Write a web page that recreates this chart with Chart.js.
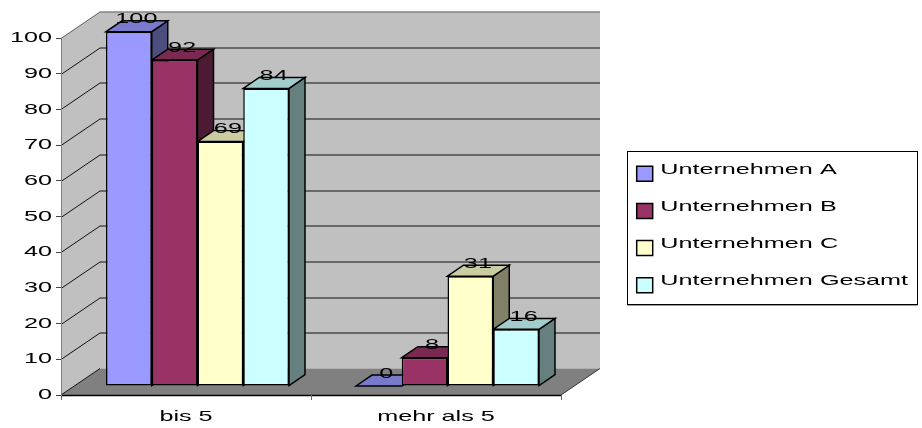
<!DOCTYPE html>
<html>
<head>
<meta charset="utf-8">
<style>html,body{margin:0;padding:0;background:#fff}canvas{display:block}</style>
<script src="https://cdn.jsdelivr.net/npm/chart.js@4"></script>
</head>
<body>
<canvas id="c" width="922" height="428"></canvas>
<script>
const categories = ['bis 5', 'mehr als 5'];
const seriesNames = ['Unternehmen A', 'Unternehmen B', 'Unternehmen C', 'Unternehmen Gesamt'];
const unternehmenA = [100, 0];
const unternehmenB = [92, 8];
const unternehmenC = [69, 31];
const unternehmenGesamt = [84, 16];
const frontColors = ['#9999FF', '#993366', '#FFFFCC', '#CCFFFF'];
const topColors = ['#7A7ACC', '#7A2952', '#CCCCA3', '#A3CCCC'];
const sideColors = ['#4D4D80', '#4D1A33', '#808066', '#668080'];

const FONT = 'Liberation Sans';
const FONT_SIZE = 15;
const STRETCH = 1.68;
const WALL = {dx: 39, dy: -26.5};
const BARPLANE = {dx: 11.5, bottom: 386, sy: 0.9924};
const BARDEPTH = {dx: 16, dy: -11};
const LEGENDBOX = {x: 627.5, y: 151.5, w: 290, h: 153};

const canvas = document.getElementById('c');
const ctx = canvas.getContext('2d');

// The reference's lettering is horizontally stretched; reproduce that on real text.
const rawFill = ctx.fillText.bind(ctx);
const rawMeasure = ctx.measureText.bind(ctx);
ctx.fillText = function (t, x, y) {
  const dy = (ctx.textBaseline === 'middle' && seriesNames.includes(t)) ? -4 : 0;
  ctx.save();
  ctx.translate(x, y + dy);
  ctx.scale(STRETCH, 1);
  rawFill(t, 0, 0);
  ctx.restore();
};
ctx.measureText = function (t) {
  const m = rawMeasure(t);
  return {width: m.width * STRETCH, actualBoxAscent: m.actualBoxAscent};
};

function poly(c, pts, fill, stroke, lw) {
  c.beginPath();
  pts.forEach((p, i) => i ? c.lineTo(p[0], p[1]) : c.moveTo(p[0], p[1]));
  c.closePath();
  if (fill) { c.fillStyle = fill; c.fill(); }
  if (stroke) { c.strokeStyle = stroke; c.lineWidth = lw || 1; c.stroke(); }
}
function seg(c, x1, y1, x2, y2, color, lw) {
  c.beginPath(); c.moveTo(x1, y1); c.lineTo(x2, y2);
  c.strokeStyle = color; c.lineWidth = lw || 1; c.stroke();
}

const scene3d = {
  id: 'scene3d',
  afterLayout(chart) {
    const l = chart.legend;
    l.left = 614.5; l.right = 922; l.top = 144; l.bottom = 428;
  },
  beforeDraw(chart) {
    const c = chart.ctx, a = chart.chartArea, y = chart.scales.y;
    const L = a.left, R = a.right, T = a.top, B = a.bottom;
    const dx = WALL.dx, dy = WALL.dy;
    c.save();
    c.fillStyle = '#fff'; c.fillRect(0, 0, chart.width, chart.height);
    poly(c, [[L + dx, T + dy], [R + dx, T + dy], [R + dx, B + dy], [L + dx, B + dy]], '#C0C0C0');
    poly(c, [[L, T], [L + dx, T + dy], [L + dx, B + dy], [L, B]], '#C0C0C0');
    poly(c, [[L, B], [R, B], [R + dx, B + dy], [L + dx, B + dy]], '#808080');
    y.ticks.forEach(t => {
      const p = Math.round(y.getPixelForValue(t.value)) + 0.5;
      if (t.value === 0) return;
      const col = t.value === y.max ? '#666666' : '#111111';
      seg(c, L, p, L + dx, p + dy, col);
      seg(c, L + dx, p + dy, R + dx, p + dy, col);
    });
    seg(c, L, B, L + dx, B + dy, '#111111');
    seg(c, R, B, R + dx, B + dy, '#333333');
    seg(c, L, B + 0.5, R, B + 0.5, '#000000', 1.5);
    // legend frame
    c.fillStyle = '#fff'; c.fillRect(LEGENDBOX.x, LEGENDBOX.y, LEGENDBOX.w, LEGENDBOX.h);
    c.strokeStyle = '#000'; c.lineWidth = 1; c.strokeRect(LEGENDBOX.x, LEGENDBOX.y, LEGENDBOX.w, LEGENDBOX.h);
    seg(c, LEGENDBOX.x, LEGENDBOX.y + LEGENDBOX.h + 1, LEGENDBOX.x + LEGENDBOX.w, LEGENDBOX.y + LEGENDBOX.h + 1, '#999999');
    c.restore();
  },
  beforeDatasetsDraw(chart) {
    const c = chart.ctx, B = chart.chartArea.bottom;
    c.save();
    c.translate(BARPLANE.dx, BARPLANE.bottom);
    c.scale(1, BARPLANE.sy);
    c.translate(0, -B);
    const n = chart.data.labels.length;
    const ddx = BARDEPTH.dx, ddy = BARDEPTH.dy;
    for (let i = 0; i < n; i++) {
      chart.data.datasets.forEach((ds, k) => {
        const el = chart.getDatasetMeta(k).data[i];
        const l = el.x - el.width / 2, r = el.x + el.width / 2, t = el.y, b = el.base;
        poly(c, [[r, t], [r + ddx, t + ddy], [r + ddx, b + ddy], [r, b]], sideColors[k], '#000', 1.5);
        poly(c, [[l, t], [l + ddx, t + ddy], [r + ddx, t + ddy], [r, t]], topColors[k], '#000', 1.5);
      });
    }
  },
  afterDatasetsDraw(chart) {
    const c = chart.ctx;
    c.font = FONT_SIZE + 'px "' + FONT + '"';
    c.fillStyle = '#000';
    c.textAlign = 'center';
    c.textBaseline = 'alphabetic';
    chart.data.datasets.forEach((ds, k) => {
      chart.getDatasetMeta(k).data.forEach((el, i) => {
        c.fillText(String(ds.data[i]), el.x + 7.5, el.y - 8.5);
      });
    });
    c.restore();
  }
};

const seriesValues = [unternehmenA, unternehmenB, unternehmenC, unternehmenGesamt];

new Chart(ctx, {
  type: 'bar',
  data: {
    labels: categories,
    datasets: seriesNames.map((name, k) => ({
      label: name,
      data: seriesValues[k],
      backgroundColor: frontColors[k],
      borderColor: '#000000',
      borderWidth: 1.5,
      borderSkipped: false,
      categoryPercentage: 0.732,
      barPercentage: 1,
      clip: false
    }))
  },
  options: {
    responsive: false,
    animation: false,
    devicePixelRatio: 1,
    layout: {autoPadding: false, padding: {top: 38, left: 0, right: 361, bottom: 0}},
    font: {family: FONT},
    scales: {
      x: {
        afterFit(s) { s.height = 33; },
        grid: {drawOnChartArea: false, drawTicks: true, tickLength: 5, color: '#666666'},
        border: {display: false},
        ticks: {color: '#000', font: {family: FONT, size: FONT_SIZE}, padding: 8, maxRotation: 0, autoSkip: false}
      },
      y: {
        min: 0, max: 100,
        afterFit(s) { s.width = 61; },
        grid: {drawOnChartArea: false, drawTicks: true, tickLength: 5, color: '#444444'},
        border: {display: true, color: '#808080'},
        ticks: {stepSize: 10, color: '#000', font: {family: FONT, size: FONT_SIZE}, padding: 4}
      }
    },
    plugins: {
      title: {display: false},
      tooltip: {enabled: false},
      legend: {
        display: true,
        position: 'chartArea',
        align: 'start',
        labels: {
          boxWidth: 16, boxHeight: 15,
          padding: 22.2,
          color: '#000',
          font: {family: FONT, size: FONT_SIZE}
        }
      }
    }
  },
  plugins: [scene3d]
});
</script>
</body>
</html>
